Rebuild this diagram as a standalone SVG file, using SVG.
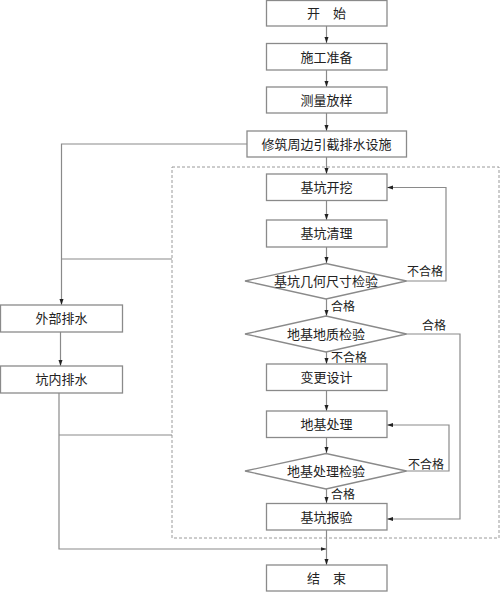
<svg xmlns="http://www.w3.org/2000/svg" width="500" height="592" viewBox="0 0 500 592">
<defs>
<marker id="arr" markerWidth="6" markerHeight="6" refX="6" refY="3" orient="auto" markerUnits="userSpaceOnUse">
<path d="M0,1 L6,3 L0,5 Z" fill="#222"/>
</marker>
<style>
.box{fill:#fff;stroke:#8a8a8a;stroke-width:1.3}
.t{font-family:"Noto Sans CJK SC","Noto Sans",sans-serif;font-size:13px;fill:#222;text-anchor:middle}
.lb{font-family:"Noto Sans CJK SC","Noto Sans",sans-serif;font-size:12px;fill:#222}
.ln{fill:none;stroke:#8a8a8a;stroke-width:1.2}
.dash{fill:none;stroke:#9a9a9a;stroke-width:1;stroke-dasharray:3 2}
</style>
</defs>
<rect width="500" height="592" fill="#fff"/>
<rect class="dash" x="172" y="167" width="327" height="371"/>
<g id="connectors">
<path class="ln" d="M326.5,26 V43" marker-end="url(#arr)"/>
<path class="ln" d="M326.5,70 V87" marker-end="url(#arr)"/>
<path class="ln" d="M326.5,113 V131" marker-end="url(#arr)"/>
<path class="ln" d="M326.5,157 V174" marker-end="url(#arr)"/>
<path class="ln" d="M326.5,201 V220" marker-end="url(#arr)"/>
<path class="ln" d="M326.5,247 V263" marker-end="url(#arr)"/>
<path class="ln" d="M326.5,299 V316" marker-end="url(#arr)"/>
<path class="ln" d="M326.5,352 V364" marker-end="url(#arr)"/>
<path class="ln" d="M326.5,391 V411" marker-end="url(#arr)"/>
<path class="ln" d="M326.5,437 V453" marker-end="url(#arr)"/>
<path class="ln" d="M326.5,489 V503" marker-end="url(#arr)"/>
<path class="ln" d="M326.5,530 V565" marker-end="url(#arr)"/>
<path class="ln" d="M406,281 H446 V187.5 H387" marker-end="url(#arr)"/>
<path class="ln" d="M406,334 H460 V519 H387" marker-end="url(#arr)"/>
<path class="ln" d="M406,471 H449 V425 H387" marker-end="url(#arr)"/>
<path class="ln" d="M248,144 H61.5 V305" marker-end="url(#arr)"/>
<path class="ln" d="M61.5,259 H172"/>
<path class="ln" d="M60.5,332 V366" marker-end="url(#arr)"/>
<path class="ln" d="M59,393 V549 H326.5" marker-end="url(#arr)"/>
<path class="ln" d="M59,435 H172"/>
</g>
<g id="n-start"><rect class="box" x="266.5" y="0.5" width="120.5" height="25.5"/><text class="t" x="326.5" y="18">开　始</text></g>
<g id="n-prep"><rect class="box" x="266.5" y="43.5" width="120.5" height="26.5"/><text class="t" x="326.5" y="61.5">施工准备</text></g>
<g id="n-survey"><rect class="box" x="266.5" y="87" width="120.5" height="26"/><text class="t" x="326.5" y="104.5">测量放样</text></g>
<g id="n-drain"><rect class="box" x="247" y="131" width="159.5" height="26"/><text class="t" x="326.5" y="148.5">修筑周边引截排水设施</text></g>
<g id="n-excavate"><rect class="box" x="266.5" y="174" width="120.5" height="26.5"/><text class="t" x="326.5" y="192">基坑开挖</text></g>
<g id="n-clean"><rect class="box" x="266.5" y="220" width="120.5" height="27"/><text class="t" x="326.5" y="238">基坑清理</text></g>
<g id="n-geocheck"><polygon class="box" points="245,281 326,263.5 406.5,281 326,299"/><text class="t" x="326" y="285.5">基坑几何尺寸检验</text></g>
<g id="n-soilcheck"><polygon class="box" points="245,334 326,316 406.5,334 326,352"/><text class="t" x="326" y="338.5">地基地质检验</text></g>
<g id="n-redesign"><rect class="box" x="266.5" y="364" width="120.5" height="26.5"/><text class="t" x="326.5" y="382">变更设计</text></g>
<g id="n-treat"><rect class="box" x="266.5" y="411" width="120.5" height="26.5"/><text class="t" x="326.5" y="429">地基处理</text></g>
<g id="n-treatcheck"><polygon class="box" points="245,471 326,453.5 406.5,471 326,489"/><text class="t" x="326" y="475.5">地基处理检验</text></g>
<g id="n-report"><rect class="box" x="266.5" y="503.5" width="120.5" height="26.5"/><text class="t" x="326.5" y="521.5">基坑报验</text></g>
<g id="n-end"><rect class="box" x="266.5" y="565" width="120.5" height="26"/><text class="t" x="326.5" y="582.5">结　束</text></g>
<g id="n-extdrain"><rect class="box" x="0.5" y="305" width="122" height="27"/><text class="t" x="61.5" y="323">外部排水</text></g>
<g id="n-intdrain"><rect class="box" x="0.5" y="366" width="122" height="27"/><text class="t" x="61.5" y="384">坑内排水</text></g>
<g id="labels">
<text class="lb" x="407" y="276">不合格</text>
<text class="lb" x="331" y="310.5">合格</text>
<text class="lb" x="422" y="330">合格</text>
<text class="lb" x="331" y="362">不合格</text>
<text class="lb" x="408" y="469">不合格</text>
<text class="lb" x="331" y="499">合格</text>
</g>
</svg>
